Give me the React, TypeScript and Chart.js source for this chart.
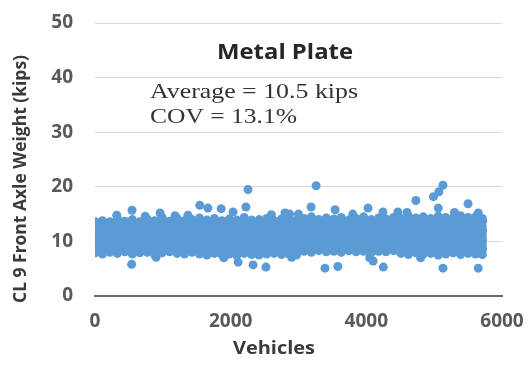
import React, { useEffect, useRef } from "react";
import { Chart, registerables } from "chart.js";

Chart.register(...registerables);

// ---------- data ----------
const xTickValues = [0, 2000, 4000, 6000];
const yTickValues = [0, 10, 20, 30, 40, 50];

const chartTitle = "Metal Plate";
const averageText = "Average = 10.5 kips";
const covText = "COV = 13.1%";
const xAxisTitle = "Vehicles";
const yAxisTitle = "CL 9 Front Axle Weight (kips)";

// vehicle numbers of sampled trucks (two interleaved sample sets)
const vehiclesA = [5, 110, 220, 330, 440, 550, 660, 770, 880, 990, 1100, 1210, 1320, 1430, 1540, 1650, 1760, 1870, 1980, 2090, 2200, 2310, 2420, 2530, 2640, 2750, 2860, 2970, 3080, 3190, 3300, 3410, 3520, 3630, 3740, 3850, 3960, 4070, 4180, 4290, 4400, 4510, 4620, 4730, 4840, 4950, 5060, 5170, 5280, 5390, 5500, 5610, 5710];
const vehiclesB = [0, 60, 165, 275, 385, 495, 605, 715, 825, 935, 1045, 1155, 1265, 1375, 1485, 1595, 1705, 1815, 1925, 2035, 2145, 2255, 2365, 2475, 2585, 2695, 2805, 2915, 3025, 3135, 3245, 3355, 3465, 3575, 3685, 3795, 3905, 4015, 4125, 4235, 4345, 4455, 4565, 4675, 4785, 4895, 5005, 5115, 5225, 5335, 5445, 5555, 5665, 5715];

// front axle weights (kips), from the top of the band to the bottom
const weightsA8 = [13.6, 13.8, 13.6, 14.2, 13.7, 14.0, 13.6, 14.1, 13.8, 14.4, 13.7, 14.2, 13.8, 14.0, 14.3, 13.9, 14.2, 13.8, 14.1, 13.9, 14.4, 13.9, 14.0, 14.2, 13.8, 14.1, 14.3, 13.9, 14.2, 14.5, 14.0, 14.3, 14.1, 14.4, 13.9, 14.2, 14.5, 14.0, 14.3, 14.1, 14.4, 14.2, 14.6, 14.3, 14.5, 14.2, 14.6, 14.4, 14.3, 14.7, 14.4, 14.5, 14.2];
const weightsB7 = [13.1, 13.0, 13.2, 13.1, 13.0, 13.2, 13.1, 13.1, 13.0, 13.2, 13.1, 13.0, 13.2, 13.1, 13.1, 13.2, 13.1, 13.3, 13.2, 13.1, 13.2, 13.3, 13.2, 13.1, 13.2, 13.3, 13.2, 13.1, 13.2, 13.4, 13.5, 13.3, 13.4, 13.5, 13.4, 13.3, 13.5, 13.4, 13.4, 13.3, 13.5, 13.4, 13.6, 13.7, 13.5, 13.6, 13.7, 13.6, 13.5, 13.7, 13.6, 13.6, 13.5, 13.7];
const weightsA6 = [12.3, 12.2, 12.4, 12.3, 12.2, 12.4, 12.3, 12.3, 12.2, 12.4, 12.3, 12.2, 12.4, 12.3, 12.4, 12.3, 12.5, 12.4, 12.3, 12.4, 12.5, 12.4, 12.3, 12.4, 12.5, 12.4, 12.3, 12.4, 12.7, 12.8, 12.6, 12.7, 12.8, 12.7, 12.6, 12.8, 12.7, 12.7, 12.6, 12.8, 12.7, 12.7, 12.8, 12.6, 12.7, 12.8, 12.7, 12.6, 12.8, 12.7, 12.7, 12.6, 12.8];
const weightsB5 = [11.6, 11.5, 11.7, 11.6, 11.5, 11.7, 11.6, 11.6, 11.5, 11.7, 11.6, 11.5, 11.7, 11.6, 11.6, 11.6, 11.5, 11.7, 11.6, 11.5, 11.6, 11.7, 11.6, 11.5, 11.6, 11.7, 11.6, 11.5, 11.6, 11.9, 12.0, 11.8, 11.9, 12.0, 11.9, 11.8, 12.0, 11.9, 11.9, 11.8, 12.0, 11.9, 11.9, 12.0, 11.8, 11.9, 12.0, 11.9, 11.8, 12.0, 11.9, 11.9, 11.8, 12.0];
const weightsA4 = [10.9, 10.8, 11.0, 10.9, 10.8, 11.0, 10.9, 10.9, 10.8, 11.0, 10.9, 10.8, 11.0, 10.9, 10.8, 10.7, 10.9, 10.8, 10.7, 10.8, 10.9, 10.8, 10.7, 10.8, 10.9, 10.8, 10.7, 10.8, 11.2, 11.3, 11.1, 11.2, 11.3, 11.2, 11.1, 11.3, 11.2, 11.2, 11.1, 11.3, 11.2, 11.1, 11.2, 11.0, 11.1, 11.2, 11.1, 11.0, 11.2, 11.1, 11.1, 11.0, 11.2];
const weightsB3 = [10.1, 10.0, 10.2, 10.1, 10.0, 10.2, 10.1, 10.1, 10.0, 10.2, 10.1, 10.0, 10.2, 10.1, 10.1, 10.0, 9.9, 10.1, 10.0, 9.9, 10.0, 10.1, 10.0, 9.9, 10.0, 10.1, 10.0, 9.9, 10.0, 10.4, 10.5, 10.3, 10.4, 10.5, 10.4, 10.3, 10.5, 10.4, 10.4, 10.3, 10.5, 10.4, 10.2, 10.3, 10.1, 10.2, 10.3, 10.2, 10.1, 10.3, 10.2, 10.2, 10.1, 10.3];
const weightsA2 = [9.4, 9.3, 9.5, 9.4, 9.3, 9.5, 9.4, 9.4, 9.3, 9.5, 9.4, 9.3, 9.5, 9.4, 9.2, 9.1, 9.3, 9.2, 9.1, 9.2, 9.3, 9.2, 9.1, 9.2, 9.3, 9.2, 9.1, 9.2, 9.7, 9.8, 9.6, 9.7, 9.8, 9.7, 9.6, 9.8, 9.7, 9.7, 9.6, 9.8, 9.7, 9.4, 9.5, 9.3, 9.4, 9.5, 9.4, 9.3, 9.5, 9.4, 9.4, 9.3, 9.5];
const weightsB1 = [8.6, 8.5, 8.7, 8.6, 8.5, 8.7, 8.6, 8.6, 8.5, 8.7, 8.6, 8.5, 8.7, 8.6, 8.6, 8.4, 8.3, 8.5, 8.4, 8.3, 8.4, 8.5, 8.4, 8.3, 8.4, 8.5, 8.4, 8.3, 8.4, 8.9, 9.0, 8.8, 8.9, 9.0, 8.9, 8.8, 9.0, 8.9, 8.9, 8.8, 9.0, 8.9, 8.5, 8.6, 8.4, 8.5, 8.6, 8.5, 8.4, 8.6, 8.5, 8.5, 8.4, 8.6];
const weightsA0 = [7.9, 7.7, 8.0, 7.8, 8.1, 7.7, 7.9, 8.0, 7.6, 7.9, 8.1, 7.8, 7.7, 8.0, 7.7, 7.5, 7.8, 7.6, 7.7, 7.4, 7.8, 7.6, 7.5, 7.7, 7.8, 7.6, 7.7, 7.5, 8.2, 8.0, 8.3, 8.1, 8.2, 8.0, 8.3, 8.1, 8.2, 7.9, 8.2, 8.1, 8.3, 7.8, 7.6, 7.9, 7.7, 7.8, 7.5, 7.7, 7.9, 7.6, 7.8, 7.7, 7.6];

// heavy and light outliers
const highVehicles = [320, 545, 740, 960, 1180, 1370, 1545, 1665, 1860, 2035, 2225, 2255, 2600, 2800, 2870, 3000, 3185, 3260, 3540, 3800, 4025, 4245, 4465, 4600, 4730, 4990, 5060, 5130, 5300, 5500, 5650, 5070];
const highWeights = [14.8, 15.7, 14.6, 15.2, 14.7, 14.8, 16.6, 16.1, 16.0, 15.4, 16.3, 19.5, 14.9, 15.2, 15.0, 15.0, 16.3, 20.2, 15.8, 15.0, 16.1, 15.4, 15.4, 15.3, 17.5, 18.2, 16.1, 20.3, 15.3, 16.9, 15.2, 19.1];
const lowVehicles = [540, 900, 1900, 2110, 2330, 2520, 2900, 3390, 3580, 4050, 4100, 4250, 4800, 5130, 5650];
const lowWeights = [5.8, 7.1, 7.0, 6.2, 5.7, 5.3, 7.1, 5.1, 5.4, 7.0, 6.4, 5.3, 7.0, 5.1, 5.1];

// ---------- helpers ----------
function pair(xs: number[], ys: number[]) {
  const out: { x: number; y: number }[] = [];
  const n = Math.min(xs.length, ys.length);
  for (let i = 0; i < n; i++) out.push({ x: xs[i], y: ys[i] });
  return out;
}

function fitText(
  ctx: CanvasRenderingContext2D,
  text: string,
  x: number,
  y: number,
  targetWidth: number,
  font: string,
  color: string,
  align: CanvasTextAlign,
  rotate = 0
) {
  ctx.save();
  ctx.font = font;
  ctx.fillStyle = color;
  ctx.textAlign = align;
  ctx.textBaseline = rotate ? "middle" : "alphabetic";
  const w = ctx.measureText(text).width;
  ctx.translate(x, y);
  if (rotate) ctx.rotate(rotate);
  ctx.scale(targetWidth / w, 1);
  ctx.fillText(text, 0, 0);
  ctx.restore();
}

const textPlugin = {
  id: "chartTexts",
  afterDraw(chart: any) {
    const ctx = chart.ctx as CanvasRenderingContext2D;
    const a = chart.chartArea;
    fitText(ctx, chartTitle, a.left + 122, a.top + 36, 136, "bold 22px 'Open Sans'", "#262626", "left");
    fitText(ctx, averageText, a.left + 55, a.top + 75, 208, "22px 'Liberation Serif'", "#333333", "left");
    fitText(ctx, covText, a.left + 55, a.top + 100, 147, "22px 'Liberation Serif'", "#333333", "left");
    fitText(ctx, xAxisTitle, a.left + 179, a.bottom + 58, 82, "bold 17.5px 'Open Sans'", "#3a3a3a", "center");
    fitText(ctx, yAxisTitle, 21, a.top + 156, 248, "bold 17.5px 'Open Sans'", "#3a3a3a", "center", -Math.PI / 2);
  },
};

export default function App() {
  const ref = useRef<HTMLCanvasElement>(null);

  useEffect(() => {
    document.body.style.margin = "0";
    const points = [
      ...pair(vehiclesA, weightsA0),
      ...pair(vehiclesB, weightsB1),
      ...pair(vehiclesA, weightsA2),
      ...pair(vehiclesB, weightsB3),
      ...pair(vehiclesA, weightsA4),
      ...pair(vehiclesB, weightsB5),
      ...pair(vehiclesA, weightsA6),
      ...pair(vehiclesB, weightsB7),
      ...pair(vehiclesA, weightsA8),
      ...pair(highVehicles, highWeights),
      ...pair(lowVehicles, lowWeights),
    ];
    const tickFont = { family: "'Open Sans'", size: 19, weight: "bold" as const };
    const chart = new Chart(ref.current!, {
      type: "scatter",
      data: {
        datasets: [
          {
            data: points,
            backgroundColor: "#5b9bd5",
            borderColor: "#5b9bd5",
            borderWidth: 0,
            pointRadius: 4.5,
            pointHoverRadius: 4.5,
          },
        ],
      },
      options: {
        responsive: false,
        animation: false,
        layout: { padding: { top: 23, right: 29, left: 0, bottom: 0 } },
        plugins: { legend: { display: false }, tooltip: { enabled: false }, title: { display: false } },
        scales: {
          x: {
            type: "linear",
            min: 0,
            max: 6000,
            afterBuildTicks: (s: any) => {
              s.ticks = xTickValues.map((v) => ({ value: v }));
            },
            afterFit: (s: any) => {
              s.height = 69;
              s.paddingLeft = 0;
              s.paddingRight = 0;
            },
            ticks: {
              font: tickFont,
              color: "#595959",
              padding: 14,
              maxRotation: 0,
              autoSkip: false,
              callback: (v: any) => String(v),
            },
            grid: { display: false, drawTicks: false },
            border: { display: true, color: "#6b6b6b", width: 2 },
          },
          y: {
            type: "linear",
            min: 0,
            max: 50,
            afterBuildTicks: (s: any) => {
              s.ticks = yTickValues.map((v) => ({ value: v }));
            },
            afterFit: (s: any) => {
              s.width = 95;
              s.paddingTop = 0;
              s.paddingBottom = 0;
            },
            ticks: { font: tickFont, color: "#595959", padding: 22, callback: (v: any) => String(v) },
            grid: {
              drawTicks: false,
              color: (c: any) => (c.tick && c.tick.value === 0 ? "rgba(0,0,0,0)" : "#d9d9d9"),
              lineWidth: 1,
            },
            border: { display: false },
          },
        },
      },
      plugins: [textPlugin],
    });
    return () => chart.destroy();
  }, []);

  return (
    <div style={{ position: "absolute", left: 0, top: 0, width: 531, height: 365, background: "#ffffff" }}>
      <canvas ref={ref} width={531} height={365} />
    </div>
  );
}
